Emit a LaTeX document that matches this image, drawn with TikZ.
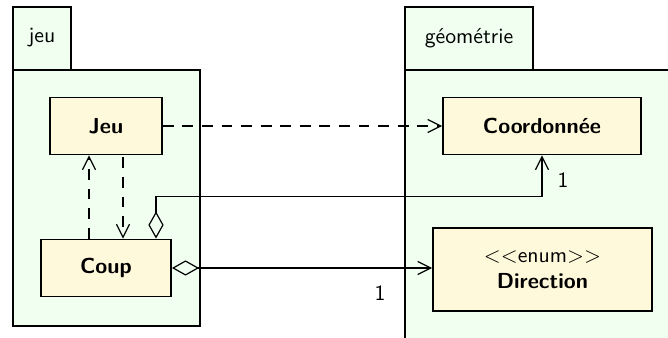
\documentclass[tikz,border=0pt]{standalone}
\usepackage{tikz}
\usetikzlibrary{arrows.meta,positioning,calc}
\renewcommand{\familydefault}{\sfdefault}
\definecolor{pkgGreen}{RGB}{240,255,240}
\definecolor{clsYellow}{RGB}{255,249,219}
\newdimen\pxu
\pxu=0.46pt
\tikzset{
	pkg/.style={draw, fill=pkgGreen, line width=0.55pt},
	cls/.style={
		draw,
		fill=clsYellow,
		line width=0.85pt,
		align=center,
		inner sep=2pt,
		font=\bfseries
	},
	dep/.style={-{Straight Barb[length=6pt,width=6pt]}, dash pattern=on 5pt off 4pt, line width=0.55pt},
	agg/.style={{Diamond[open,length=12.5pt,width=7pt]}-{Straight Barb[length=6pt,width=6pt]}, line width=0.55pt},
	mult/.style={inner sep=0pt}
}

\begin{document}
\begin{tikzpicture}[x=\pxu, y=\pxu]
	\clip (0,0) rectangle (668,338);
	% packages
	\draw[pkg] (13,268) rectangle (71,331);
	\draw[pkg] (13,12) rectangle (200,268);
	\node (jeuLbl) at (42,300) {jeu};
	\draw[pkg] (405,268) rectangle (533,331);
	\draw[pkg] (405,-10) rectangle (690,268);
	\node (geoLbl) at (469,300) {géométrie};
	% classes
	\node[cls, minimum width=112\pxu, minimum height=57\pxu] (jeu) at (106,212) {Jeu};
	\node[cls, minimum width=130\pxu, minimum height=57\pxu] (coup) at (106,70) {Coup};
	\node[cls, minimum width=198\pxu, minimum height=57\pxu] (coord) at (542,212) {Coordonnée};
	\node[cls, minimum width=219\pxu, minimum height=83\pxu] (dir) at (542.5,68.5) {{\mdseries $<<$enum$>>$}\\Direction};
	% dependencies
	\draw[dep] (jeu.east) -- (coord.west);
	\draw[dep] ([xshift=-17\pxu]coup.north) -- ([xshift=-17\pxu]jeu.south);
	\draw[dep] ([xshift=17\pxu,yshift=-2\pxu]jeu.south) -- ([xshift=17\pxu]coup.north);
	% aggregations
	\draw[agg] ([xshift=50\pxu]coup.north) -- ++(0,42) -| (coord.south);
	\draw[agg] (coup.east) -- (coup.east -| dir.west);
	\node[mult] (m1) at (563,158) {1};
	\node[mult] (m2) at (380,45) {1};
\end{tikzpicture}
\end{document}
